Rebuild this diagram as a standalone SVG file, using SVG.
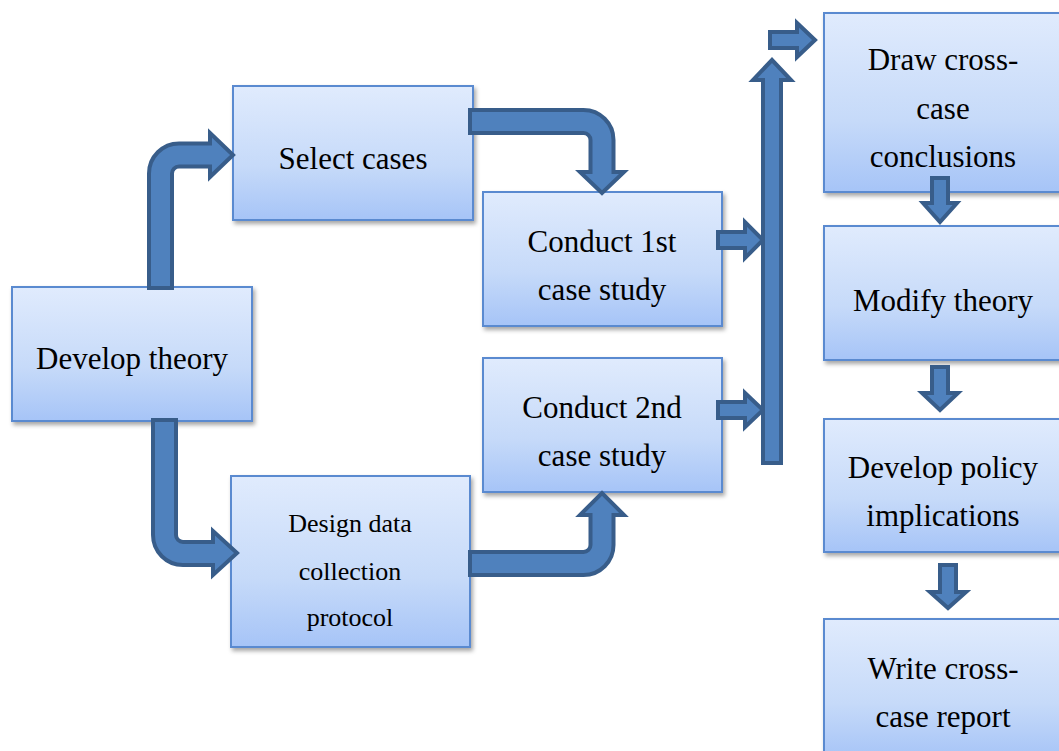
<svg xmlns="http://www.w3.org/2000/svg" width="1059" height="751" viewBox="0 0 1059 751">
<defs>
<linearGradient id="g" x1="0" y1="0" x2="0" y2="1">
<stop offset="0" stop-color="#e0ebfd"/>
<stop offset="0.6" stop-color="#c6daf9"/>
<stop offset="1" stop-color="#a6c4f7"/>
</linearGradient>
<filter id="sh" x="-10%" y="-10%" width="125%" height="130%">
<feDropShadow dx="2" dy="3" stdDeviation="2" flood-color="#000" flood-opacity="0.35"/>
</filter>
</defs>
<style>
.box{fill:url(#g);stroke:#5a8ad0;stroke-width:2;filter:url(#sh)}
.t{font-family:'Liberation Serif','Tinos','DejaVu Serif',serif;font-size:31px;fill:#000;text-anchor:middle}
.s{font-size:26px}
.ar{fill:#4f81bd;stroke:#385d8a;stroke-width:4;stroke-linejoin:miter}
.sa{fill:#4f81bd;stroke:#385d8a;stroke-width:4}
</style>
<rect width="1059" height="751" fill="#fff"/>
<g id="develop-theory"><rect class="box" x="12" y="287" width="240" height="134"/><text class="t" x="132" y="369">Develop theory</text></g>
<g id="select-cases"><rect class="box" x="233" y="86" width="240" height="134"/><text class="t" x="353" y="169">Select cases</text></g>
<g id="conduct-1st"><rect class="box" x="483" y="192" width="239" height="134"/><text class="t" x="602" y="252">Conduct 1st</text><text class="t" x="602" y="300">case study</text></g>
<g id="conduct-2nd"><rect class="box" x="483" y="358" width="239" height="134"/><text class="t" x="602" y="418">Conduct 2nd</text><text class="t" x="602" y="466">case study</text></g>
<g id="design-protocol"><rect class="box" x="231" y="476" width="239" height="171"/><text class="t s" x="350" y="532">Design data</text><text class="t s" x="350" y="580">collection</text><text class="t s" x="350" y="626">protocol</text></g>
<g id="draw-conclusions"><rect class="box" x="824" y="13" width="250" height="179"/><text class="t" x="943" y="70">Draw cross-</text><text class="t" x="943" y="119">case</text><text class="t" x="943" y="167">conclusions</text></g>
<g id="modify-theory"><rect class="box" x="824" y="226" width="250" height="134"/><text class="t" x="943" y="311">Modify theory</text></g>
<g id="policy"><rect class="box" x="824" y="419" width="250" height="133"/><text class="t" x="943" y="478">Develop policy</text><text class="t" x="943" y="526">implications</text></g>
<g id="write-report"><rect class="box" x="824" y="619" width="250" height="140"/><text class="t" x="943" y="679">Write cross-</text><text class="t" x="943" y="727">case report</text></g>
<g id="connectors">
<path class="ar" d="M149,288 V173.5 A30,30 0 0 1 179,143.5 H210 V133 L233,155 L210,177 V166.5 H179 A7,7 0 0 0 172,173.5 V288 Z"/>
<path class="ar" d="M470,110 H583.5 A30,30 0 0 1 613.5,140 V172 H624 L602,193 L580,172 H590.5 V140 A7,7 0 0 0 583.5,133 H470 Z"/>
<path class="ar" d="M153,420 V535 A30,30 0 0 0 183,565 H213 V575 L237,553 L213,531 V542 H183 A7,7 0 0 1 176,535 V420 Z"/>
<path class="ar" d="M470,575 H583.5 A30,30 0 0 0 613.5,545 V515 H624 L602,493 L580,515 H590.5 V545 A7,7 0 0 1 583.5,552 H470 Z"/>
<path class="sa" d="M718,232 H745 V222 L763,240 L745,258 V248 H718 Z"/>
<path class="sa" d="M718,402 H745 V393 L763,410 L745,427 V418 H718 Z"/>
<path class="sa" d="M763,463 V80 H753 L772,60 L791,80 H781 V463 Z"/>
<path class="sa" d="M770,32 H797 V23 L815,40 L797,57 V48 H770 Z"/>
<path class="sa" d="M932,178 V203 H923 L940,222 L957,203 H948 V178 Z"/>
<path class="sa" d="M932,367 V393 H922 L940,410 L958,393 H948 V367 Z"/>
<path class="sa" d="M940,565 V592 H930 L948,608 L966,592 H956 V565 Z"/>
</g>
</svg>
